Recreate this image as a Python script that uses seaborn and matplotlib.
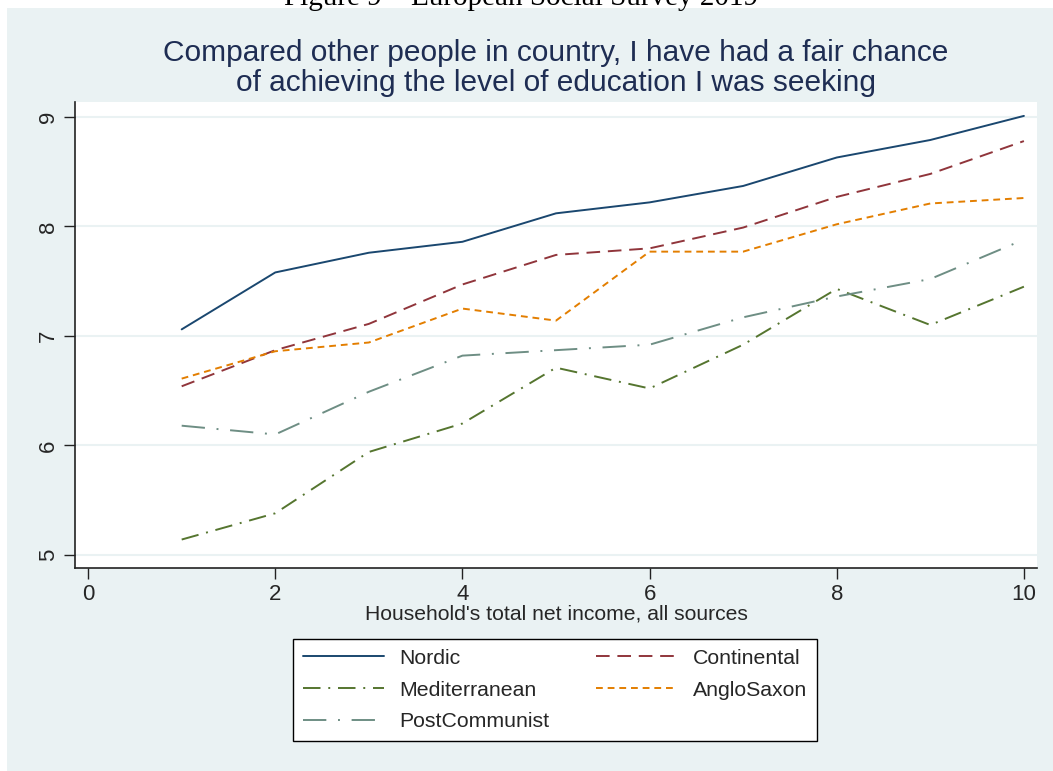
import numpy as np
import pandas as pd
import seaborn as sns
import matplotlib.pyplot as plt
from matplotlib.patches import Rectangle

income = [1, 2, 3, 4, 5, 6, 7, 8, 9, 10]
nordic = [7.06, 7.58, 7.76, 7.86, 8.12, 8.22, 8.37, 8.63, 8.79, 9.01]
continental = [6.54, 6.87, 7.11, 7.47, 7.74, 7.80, 7.99, 8.27, 8.48, 8.78]
mediterranean = [5.14, 5.38, 5.94, 6.20, 6.71, 6.52, 6.92, 7.43, 7.10, 7.45]
anglosaxon = [6.61, 6.86, 6.94, 7.25, 7.14, 7.77, 7.77, 8.02, 8.21, 8.26]
postcommunist = [6.18, 6.10, 6.49, 6.82, 6.87, 6.92, 7.17, 7.36, 7.52, 7.88]

regions = ['Nordic', 'Continental', 'Mediterranean', 'AngloSaxon', 'PostCommunist']
series = [nordic, continental, mediterranean, anglosaxon, postcommunist]
colors = ['#1a476f', '#90353b', '#55752f', '#e37e00', '#6e8e84']
dashes = [(None, None), (7, 4), (9, 4, 1, 4), (3.5, 2.5), (12, 6, 1, 6)]

df = pd.DataFrame({'income': income * len(regions),
                   'score': sum(series, []),
                   'region': np.repeat(regions, len(income))})

sns.set_style('white')
plt.rcParams['font.family'] = ['Liberation Sans', 'DejaVu Sans']

fig = plt.figure(figsize=(10.53, 7.71), dpi=100)
fig.patch.set_facecolor('white')
fig.patches.append(Rectangle((7 / 1053, 0), 1, 1 - 8 / 771, transform=fig.transFigure,
                             facecolor='#eaf2f3', edgecolor='none', zorder=-10))
# caption of the page, cut by the top edge as in the source
fig.text(0.495, 1 - 5 / 771, 'Figure 9 \u2013 European Social Survey 2019', ha='center',
         va='baseline', fontsize=21, family=['Liberation Serif'], color='black')

ax = fig.add_axes([75 / 1053, 1 - 568 / 771, (1037 - 75) / 1053, (568 - 102) / 771])
ax.set_facecolor('white')

for name, col, d in zip(regions, colors, dashes):
    sub = df[df['region'] == name]
    sns.lineplot(data=sub, x='income', y='score', ax=ax, color=col, lw=1.4,
                 label=name, estimator=None)
    line = ax.get_lines()[-1]
    if d[0] is not None:
        line.set_dashes(d)

ax.set_xlim(-0.14, 10.14)
ax.set_ylim(4.88, 9.137)
ax.set_xticks([0, 2, 4, 6, 8, 10])
ax.set_yticks([5, 6, 7, 8, 9])
for y in [5, 6, 7, 8, 9]:
    ax.axhline(y, color='#eaf2f3', lw=1.5, zorder=0)
for s in ['top', 'right']:
    ax.spines[s].set_visible(False)
for s in ['left', 'bottom']:
    ax.spines[s].set_color('#222222')
    ax.spines[s].set_linewidth(1.2)
ax.tick_params(axis='both', direction='out', length=8, width=1, color='#222222',
               labelsize=16, bottom=True, left=True)
plt.setp(ax.get_yticklabels(), rotation=90, va='center')
ax.set_xlabel("Household's total net income, all sources", fontsize=15.2, labelpad=0)
ax.set_ylabel('')
ax.set_title('Compared other people in country, I have had a fair chance\n'
             'of achieving the level of education I was seeking',
             fontsize=21.5, color='#1e2d53', pad=8, linespacing=1.08)

handles, labels = ax.get_legend_handles_labels()
ax.get_legend().remove()
order = [0, 2, 4, 1, 3]
leg = fig.legend([handles[i] for i in order], [labels[i] for i in order], ncol=2,
                 loc='center', bbox_to_anchor=(555 / 1053, 1 - 690 / 771), fontsize=15.3,
                 frameon=True, fancybox=False, edgecolor='black', framealpha=1,
                 handlelength=3.8, columnspacing=2.2, handletextpad=0.75, labelspacing=0.6,
                 borderpad=0.45, borderaxespad=0)
leg.get_frame().set_linewidth(1)

fig.savefig('out.png', dpi=100)
